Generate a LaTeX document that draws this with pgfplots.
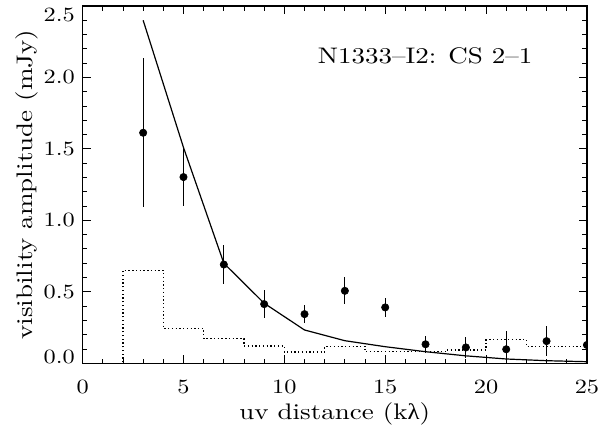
\documentclass[border=0pt]{standalone}
\usepackage{fontspec}
\setmainfont{lmroman10-regular.otf}[FakeStretch=1.2]
\newfontfamily\grk{Liberation Serif}[FakeStretch=1.1]
\usepackage{pgfplots}
\pgfplotsset{compat=1.18}

% binned visibilities: uv distance, amplitude, error
\pgfplotstableread{
x   y      err
3   1.613  0.52
5   1.303  0.20
7   0.691  0.135
9   0.414  0.10
11  0.344  0.062
13  0.507  0.095
15  0.391  0.067
17  0.133  0.060
19  0.111  0.072
21  0.098  0.130
23  0.155  0.103
25  0.128  0.050
}\vis

\newcommand\lblfont{\fontsize{15pt}{18pt}\selectfont}

\begin{document}
\fontsize{13.5pt}{16pt}\selectfont
\begin{tikzpicture}
\begin{axis}[
  width=336.2pt, height=238.2pt, scale only axis,
  xmin=0, xmax=25, ymin=0, ymax=2.5,
  xtick={0,5,...,25}, minor x tick num=4,
  ytick={0,0.5,1,1.5,2,2.5}, minor y tick num=4,
  yticklabels={\raisebox{4.2pt}[\height][\depth]{0.0},0.5,1.0,1.5,2.0,\raisebox{-6pt}[\height][\depth]{2.5}},
  /pgf/number format/assume math mode=true,
  every x tick label/.append style={yshift=-6.6pt},
  every y tick label/.append style={xshift=-0.6pt},
  major tick length=5.3pt, minor tick length=3pt,
  tick style={black, line width=0.6pt},
  axis line style={line width=1pt},
  clip marker paths=true,
  xlabel={uv distance (k{\grk λ})},
  ylabel={visibility amplitude (mJy)},
  xlabel style={font=\lblfont, at={(axis description cs:0.5,-0.1566)}, anchor=base},
  ylabel style={font=\lblfont, at={(axis description cs:-0.0985,0.5)}, anchor=base},
]
  % model curve
  \addplot[black, line width=0.8pt] coordinates {
    (3,2.40) (5,1.51) (7,0.70) (9,0.42) (11,0.233) (13,0.158)
    (15,0.116) (17,0.081) (19,0.052) (21,0.030) (23,0.018) (25,0.011)
  };
  % zero-signal expectation histogram
  \addplot[black, line width=0.8pt, dash pattern=on 0.9pt off 1.6pt, const plot] coordinates {
    (0,0) (2,0.65) (4,0.245) (6,0.172) (8,0.121) (10,0.079) (12,0.118)
    (14,0.082) (16,0.082) (18,0.093) (20,0.165) (22,0.118) (25,0.118)
  };
  % data
  \addplot[black, only marks, mark=*, mark size=2.45pt,
    error bars/.cd, y dir=both, y explicit, error mark=none,
    error bar style={line width=0.8pt}]
    table[x=x, y=y, y error=err] {\vis};
  \node[anchor=base west, inner sep=0pt, font=\lblfont] at (axis description cs:0.466,0.8396)
    {N1333--I2: CS 2--1};
  \coordinate (sw) at (rel axis cs:0,0);
\end{axis}
\pgfresetboundingbox
\path (sw) ++(-55.1pt,-42.5pt) rectangle ++(398.7pt,284.7pt);
\end{tikzpicture}
\end{document}
